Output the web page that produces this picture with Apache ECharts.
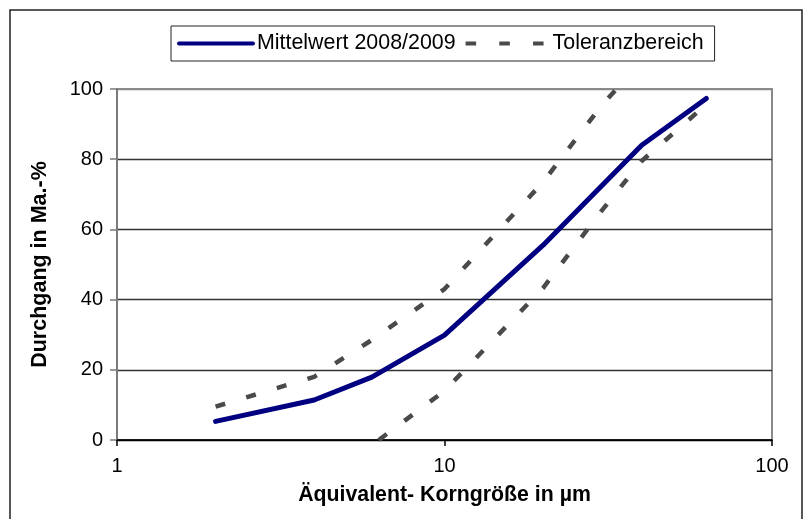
<!DOCTYPE html>
<html>
<head>
<meta charset="utf-8">
<script src="https://cdn.jsdelivr.net/npm/echarts@6/dist/echarts.min.js"></script>
<style>
html,body{margin:0;padding:0;background:#fff;}
#c{width:807px;height:519px;}
</style>
</head>
<body>
<div id="c"></div>
<script>
// Data (x: particle size in µm, y: passing in mass-%)
const meanX = [2, 4, 6, 10, 20, 40, 63];
const meanY = [5.3, 11.4, 17.9, 29.9, 55.5, 84, 97.3];
const upperX = [2, 4, 6, 10, 20, 30, 40];
const upperY = [9.5, 18, 28.5, 43, 73.5, 95, 108];
const lowerX = [6.3, 10, 20, 30, 40, 63];
const lowerY = [0, 14, 43.3, 65, 79.5, 95.6];
const xTicks = ['1', '10', '100'];
const yTicks = [0, 20, 40, 60, 80, 100];
const seriesNames = ['Mittelwert 2008/2009', 'Toleranzbereich'];

const pairs = (xs, ys) => xs.map((x, i) => [x, ys[i]]);
const FONT = 'Liberation Sans, Arial, sans-serif';

const chart = echarts.init(document.getElementById('c'), null, {renderer: 'canvas'});
const dashStyle = {color: '#4a4a4a', width: 4.5, type: [10, 22], cap: 'butt'};
chart.setOption({
  animation: false,
  backgroundColor: '#fff',
  graphic: [{
    type: 'rect', shape: {x: 10, y: 10, width: 792, height: 530},
    style: {fill: 'none', stroke: '#222', lineWidth: 1.5}, silent: true, z: -1
  }],
  legend: {
    left: 171, top: 26,
    padding: [7, 11, 7, 6],
    borderColor: '#222', borderWidth: 1,
    itemWidth: 78, itemHeight: 5, itemGap: 10,
    textStyle: {fontFamily: FONT, fontSize: 21.4, color: '#000', padding: [0, 0, 0, -3]},
    data: [
      {name: seriesNames[0], icon: 'path://M2,0H76A2,2 0 0 1 76,4H2A2,2 0 0 1 2,0Z', itemStyle: {color: '#000080'}},
      {name: seriesNames[1], icon: 'path://M0,0H10V4H0Z M32,0H42V4H32Z M64,0H74V4H64Z', itemStyle: {color: '#4a4a4a'}, textStyle: {padding: [0, 0, 0, 4]}}
    ]
  },
  grid: {left: 117, right: 35, top: 89, bottom: 79, show: true, borderColor: '#8a8a8a', borderWidth: 2, backgroundColor: '#fff'},
  xAxis: {
    type: 'log', logBase: 10, min: 1, max: 100,
    name: 'Äquivalent- Korngröße in µm', nameLocation: 'middle', nameGap: 45,
    nameTextStyle: {fontFamily: FONT, fontSize: 21.3, fontWeight: 'bold', color: '#000'},
    axisLine: {lineStyle: {color: '#000', width: 1.5}},
    axisTick: {show: true, length: 6, lineStyle: {color: '#000', width: 1.5}},
    axisLabel: {fontFamily: FONT, fontSize: 20, color: '#000', margin: 16,
      formatter: v => xTicks.find(t => Number(t) === Math.round(v)) || ''},
    splitLine: {show: false},
    minorTick: {show: false}
  },
  yAxis: {
    type: 'value', min: 0, max: 100, interval: 20,
    name: 'Durchgang in Ma.-%', nameLocation: 'middle', nameGap: 66,
    nameTextStyle: {fontFamily: FONT, fontSize: 21.5, fontWeight: 'bold', color: '#000'},
    axisLine: {show: true, lineStyle: {color: '#7a7a7a', width: 2}},
    axisTick: {show: true, length: 7, lineStyle: {color: '#7a7a7a', width: 1.5}},
    axisLabel: {fontFamily: FONT, fontSize: 20, color: '#000', margin: 14,
      formatter: v => yTicks.includes(v) ? String(v) : ''},
    splitLine: {show: true, lineStyle: {color: ['#000', '#333', '#333', '#333', '#333', '#8a8a8a'], width: 1.3}}
  },
  series: [
    {name: seriesNames[0], type: 'line', data: pairs(meanX, meanY), showSymbol: false, symbol: 'none',
     lineStyle: {color: '#000080', width: 5, cap: 'round', join: 'round'}, itemStyle: {color: '#000080'}, z: 3, clip: true},
    {name: seriesNames[1], type: 'line', data: pairs(upperX, upperY), showSymbol: false, symbol: 'none',
     lineStyle: dashStyle, itemStyle: {color: '#4a4a4a'}, z: 2, clip: true},
    {name: seriesNames[1], type: 'line', data: pairs(lowerX, lowerY), showSymbol: false, symbol: 'none',
     lineStyle: dashStyle, itemStyle: {color: '#4a4a4a'}, z: 2, clip: true}
  ]
});
</script>
</body>
</html>
